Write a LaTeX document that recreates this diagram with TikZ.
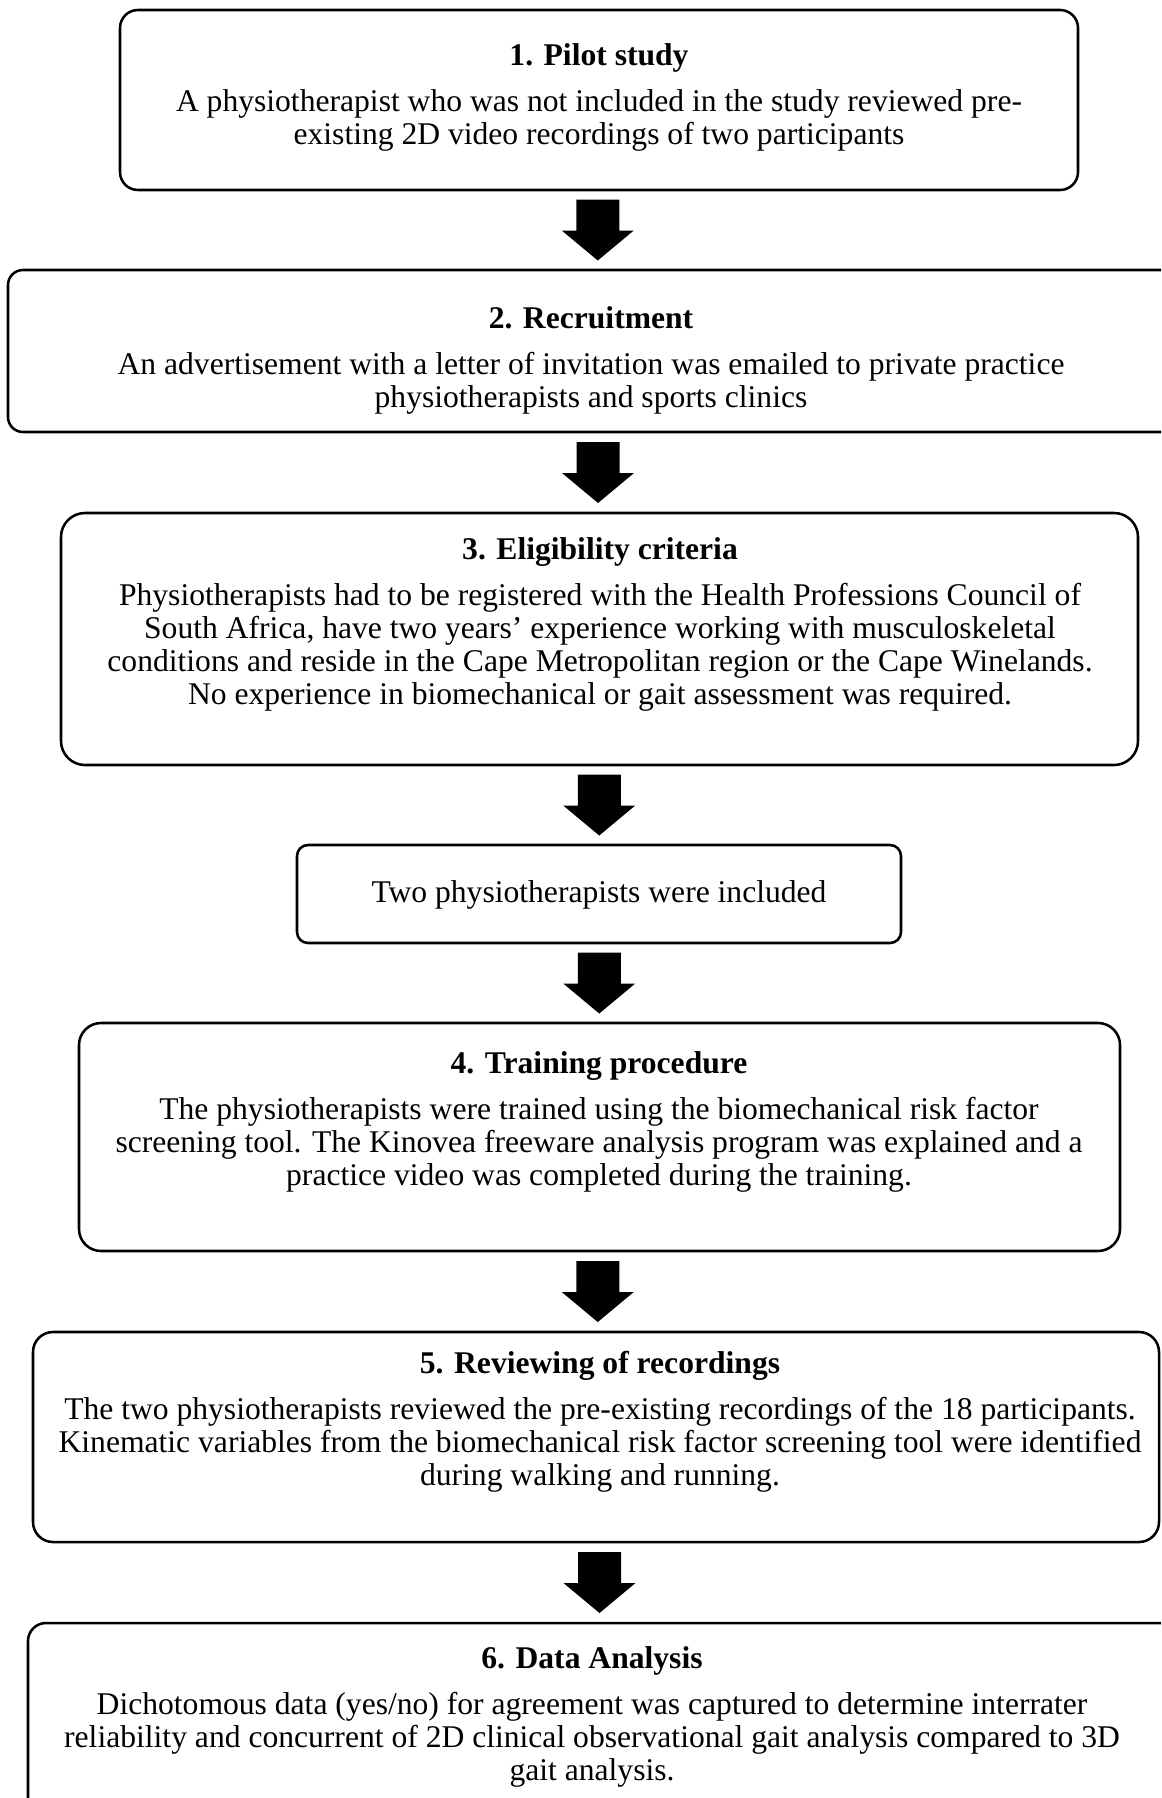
\documentclass[tikz,border=0pt]{standalone}
\usepackage{fontspec}
\setmainfont{Liberation Serif}
\usetikzlibrary{calc}
\begin{document}
\begin{tikzpicture}[x=0.75pt,y=-0.75pt,
  box/.style={draw=black, line width=1.9pt, inner sep=0pt, outer sep=0pt, fill=white},
  txt/.style={anchor=north, inner sep=0pt, align=center,
    font=\fontsize{23.7pt}{24.75pt}\selectfont},
  bigarrow/.pic={\fill[black] (-21.5,-30.5) -- ++(43,0) -- ++(0,31) -- ++(14.5,0)
      -- ++(-36,30) -- ++(-36,-30) -- ++(14.5,0) -- cycle;}]
\useasboundingbox (0,0) rectangle (1161,1798);
\clip (0,0) rectangle (1161,1798);
\fill[white] (0,0) rectangle (1161,1798);
% boxes
\node[box, rounded corners=13.5pt, minimum width=718.5pt, minimum height=135pt] (b1) at (599,100) {};
\node[box, rounded corners=11.25pt, minimum width=882.75pt, minimum height=121.5pt] (b2) at (596.5,351) {};
\node[box, rounded corners=18pt, minimum width=807.75pt, minimum height=189pt] (b3) at (599.5,639) {};
\node[box, rounded corners=8.25pt, minimum width=453pt, minimum height=73.5pt] (bt) at (599,894) {};
\node[box, rounded corners=16.5pt, minimum width=780.75pt, minimum height=171pt] (b4) at (599.5,1137) {};
\node[box, rounded corners=15pt, minimum width=844.5pt, minimum height=157.5pt] (b5) at (596,1437) {};
\node[box, rounded corners=13.5pt, minimum width=862.5pt, minimum height=155.25pt] (b6) at (603,1726.5) {};
% texts
\node[txt] (t1) at (599,41) {\rule{0pt}{18pt}\textbf{1. Pilot study}\\[10pt]
  A physiotherapist who was not included in the study reviewed pre-\\
  existing 2D video recordings of two participants};
\node[txt] (t2) at (591,304) {\rule{0pt}{18pt}\textbf{2. Recruitment}\\[10pt]
  An advertisement with a letter of invitation was emailed to private practice\\
  physiotherapists and sports clinics};
\node[txt] (t3) at (600,535) {\rule{0pt}{18pt}\textbf{3. Eligibility criteria}\\[10pt]
  Physiotherapists had to be registered with the Health Professions Council of\\
  South Africa, have two years’ experience working with musculoskeletal\\
  conditions and reside in the Cape Metropolitan region or the Cape Winelands.\\
  No experience in biomechanical or gait assessment was required.};
\node[txt] (tt) at (599,878) {\rule{0pt}{18pt}Two physiotherapists were included};
\node[txt] (t4) at (599,1049) {\rule{0pt}{18pt}\textbf{4. Training procedure}\\[10pt]
  The physiotherapists were trained using the biomechanical risk factor\\
  screening tool. The Kinovea freeware analysis program was explained and a\\
  practice video was completed during the training.};
\node[txt] (t5) at (600,1349) {\rule{0pt}{18pt}\textbf{5. Reviewing of recordings}\\[10pt]
  The two physiotherapists reviewed the pre-existing recordings of the 18 participants.\\
  Kinematic variables from the biomechanical risk factor screening tool were identified\\
  during walking and running.};
\node[txt] (t6) at (592,1644) {\rule{0pt}{18pt}\textbf{6. Data Analysis}\\[10pt]
  Dichotomous data (yes/no) for agreement was captured to determine interrater\\
  reliability and concurrent of 2D clinical observational gait analysis compared to 3D\\
  gait analysis.};
% arrows
\coordinate (m1) at ($(b1.south)!0.5!(b2.north)$);
\coordinate (m2) at ($(b2.south)!0.5!(b3.north)$);
\coordinate (m3) at ($(b3.south)!0.5!(bt.north)$);
\coordinate (m4) at ($(bt.south)!0.5!(b4.north)$);
\coordinate (m5) at ($(b4.south)!0.5!(b5.north)$);
\coordinate (m6) at ($(b5.south)!0.5!(b6.north)$);
\foreach \m in {m1,m2,m3,m4,m5,m6} { \pic at (\m) {bigarrow}; }
\end{tikzpicture}
\end{document}
